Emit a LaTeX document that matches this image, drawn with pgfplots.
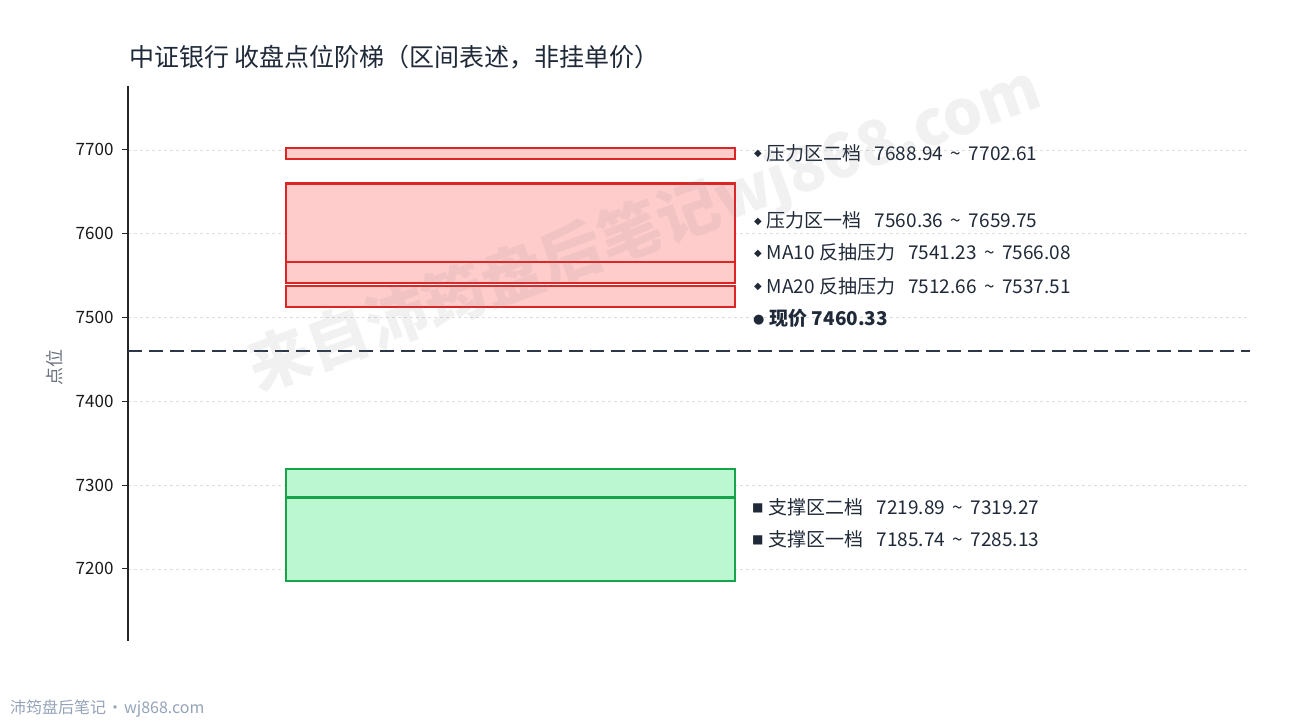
\documentclass[border=0pt]{standalone}
\usepackage{pgfplots}
\pgfplotsset{compat=1.18}
\usepackage{fontspec}
\setmainfont{Noto Sans CJK SC}
\newfontfamily\symfont{DejaVu Sans}
\definecolor{redE}{HTML}{DC2626}
\definecolor{redF}{HTML}{FFCCCC}
\definecolor{greenE}{HTML}{16A34A}
\definecolor{greenF}{HTML}{BBF7D0}
\definecolor{txt}{HTML}{1F2937}
\definecolor{dashc}{HTML}{2D3748}
\definecolor{gridc}{HTML}{DDDDDD}
\definecolor{ylab}{HTML}{6B7280}
\definecolor{foot}{HTML}{94A3B8}
\newcommand{\lab}[1]{\fontsize{19}{21}\selectfont\color{txt}#1}
\newcommand{\til}{\hspace{7.5pt}\textasciitilde\hspace{7.5pt}}
\newcommand{\gap}{\hspace{13pt}}
\newcommand{\mydia}{\raisebox{3.5pt}{\symfont\fontsize{10}{10}\selectfont ◆}\hspace{5pt}}
\newcommand{\mysq}{\raisebox{2.3pt}{\symfont\fontsize{12}{12}\selectfont ■}\hspace{5pt}}
\newcommand{\mydot}{\raisebox{2pt}{\symfont\fontsize{13}{13}\selectfont ●}\hspace{5pt}}
\begin{document}
\begin{tikzpicture}[x=1pt,y=1pt]
\path[use as bounding box] (0,0) rectangle (1290,720);
\node[anchor=base west, inner sep=0, text=txt, font=\fontsize{25}{28}\selectfont] at (129,653) {中证银行 收盘点位阶梯（区间表述，非挂单价）};
\node[anchor=center, rotate=90, inner sep=0, text=ylab, font=\fontsize{18}{20}\selectfont] at (55,352) {点位};
\node[anchor=base west, inner sep=0, text=foot, font=\fontsize{16}{18}\selectfont] at (10,7) {沛筠盘后笔记\hspace{1pt}·\hspace{1pt}wj868.com};
\begin{axis}[
  at={(128,94.5)}, anchor=south west,
  width=1122pt, height=555pt, scale only axis,
  xmin=0, xmax=1122, ymin=7114.1, ymax=7776.4,
  axis x line=none, axis y line*=left,
  ytick={7200,7300,7400,7500,7600,7700},
  ymajorgrids, grid style={dashed, draw=gridc, line width=0.6pt},
  y axis line style={line width=1.3pt, draw=black!85},
  major tick length=6pt, tick align=outside,
  y tick style={line width=1pt, draw=black!85},
  yticklabel style={font=\fontsize{17}{19}\selectfont, text=black!90, xshift=-5pt},
  /pgf/number format/assume math mode=true,
  /pgf/number format/1000 sep={},
  clip=false,
]
% resistance boxes
\addplot[draw=redE, fill=redF, line width=2.2pt] coordinates {(158,7688.94) (607,7688.94) (607,7702.61) (158,7702.61)} -- cycle;
\addplot[draw=redE, fill=redF, line width=2.2pt] coordinates {(158,7560.36) (607,7560.36) (607,7659.75) (158,7659.75)} -- cycle;
\addplot[draw=redE, fill=redF, line width=2.2pt] coordinates {(158,7541.23) (607,7541.23) (607,7566.08) (158,7566.08)} -- cycle;
\addplot[draw=redE, fill=redF, line width=2.2pt] coordinates {(158,7512.66) (607,7512.66) (607,7537.51) (158,7537.51)} -- cycle;
% support boxes
\addplot[draw=greenE, fill=greenF, line width=2.2pt] coordinates {(158,7219.89) (607,7219.89) (607,7319.27) (158,7319.27)} -- cycle;
\addplot[draw=greenE, fill=greenF, line width=2.2pt] coordinates {(158,7185.74) (607,7185.74) (607,7285.13) (158,7285.13)} -- cycle;
% current price
\addplot[draw=dashc, line width=2pt, dash pattern=on 14pt off 7pt] coordinates {(0,7460.33) (1122,7460.33)};
% labels
\node[anchor=west, inner sep=0] at (axis cs:626,7696.4) {\lab{\mydia 压力区二档\gap 7688.94\til 7702.61}};
\node[anchor=west, inner sep=0] at (axis cs:626,7615.3) {\lab{\mydia 压力区一档\gap 7560.36\til 7659.75}};
\node[anchor=west, inner sep=0] at (axis cs:626,7577.1) {\lab{\mydia MA10 反抽压力\gap 7541.23\til 7566.08}};
\node[anchor=west, inner sep=0] at (axis cs:626,7537.7) {\lab{\mydia MA20 反抽压力\gap 7512.66\til 7537.51}};
\node[anchor=west, inner sep=0] at (axis cs:625,7499.5) {\lab{\mydot\bfseries 现价 7460.33}};
\node[anchor=west, inner sep=0] at (axis cs:624,7274.0) {\lab{\mysq 支撑区二档\gap 7219.89\til 7319.27}};
\node[anchor=west, inner sep=0] at (axis cs:624,7235.8) {\lab{\mysq 支撑区一档\gap 7185.74\til 7285.13}};
\end{axis}
\node[rotate=20, text=gray, opacity=0.11, font=\fontsize{62}{70}\selectfont\bfseries] at (645,490) {来自沛筠盘后笔记wj868.com};
\end{tikzpicture}
\end{document}
